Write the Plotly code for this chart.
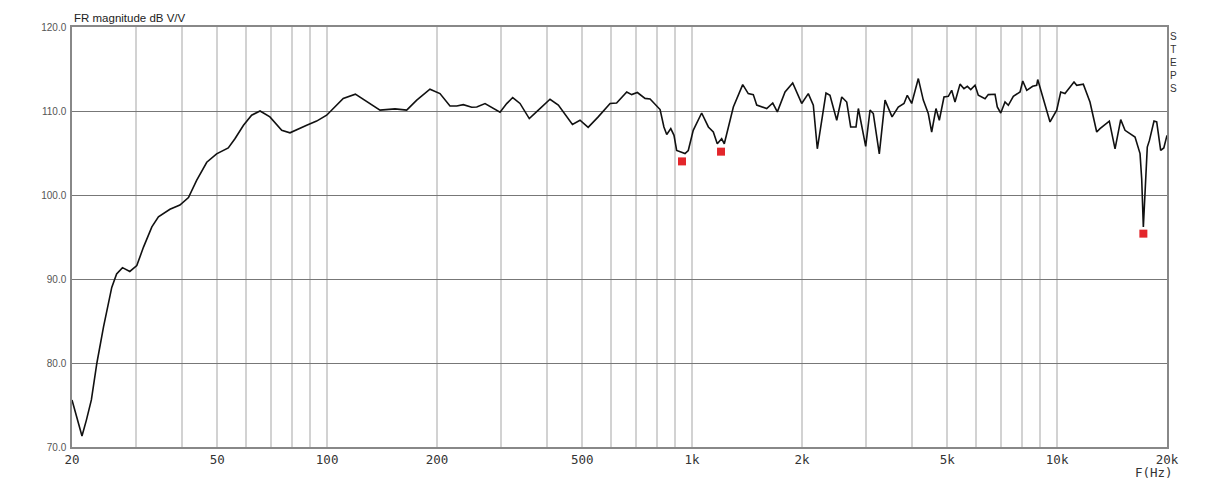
import plotly.graph_objects as go

# ---- data ----
freq_hz = [20, 21.3, 21.9, 22.6, 23.4, 24.4, 25.7, 26.5, 27.5, 28.8, 30.1, 31.4, 33.1, 34.5,
           37.1, 39.5, 41.7, 43.9, 46.8, 49.8, 53.6, 55.9, 59.0, 62.1, 65.5, 69.7, 75.1, 79.1,
           87.9, 93.6, 99.7, 110.7, 119.5, 139.6, 153.5, 165.2, 176, 191.3, 203.8, 217.1, 226.5,
           236.1, 249, 257, 270.8, 285.4, 297.7, 310.4, 322.4, 337.6, 358, 379, 408, 430, 470,
           493, 519, 553, 596, 621, 662, 683, 708, 743, 767, 817, 837, 852, 874, 892, 907, 956,
           976, 1007, 1062, 1108, 1143, 1172, 1205, 1225, 1297, 1376, 1425, 1471, 1503, 1601,
           1663, 1712, 1797, 1886, 1996, 2081, 2148, 2203, 2265, 2327, 2386, 2490, 2570, 2652,
           2719, 2812, 2854, 2989, 3072, 3136, 3257, 3377, 3530, 3671, 3806, 3886, 3995, 4166,
           4299, 4436, 4532, 4657, 4756, 4898, 5034, 5142, 5251, 5420, 5556, 5676, 5799, 5958,
           6082, 6346, 6478, 6759, 6856, 7007, 7199, 7350, 7586, 7914, 8051, 8257, 8570, 8790,
           8848, 9074, 9562, 9974, 10230, 10508, 11124, 11315, 11796, 12303, 12836, 13104,
           13900, 14410, 14936, 15348, 16346, 16872, 17050, 17228, 17420, 17660, 17900, 18426,
           18742, 19218, 19600, 20000]
mag_db = [75.6, 71.3, 73.2, 75.6, 80.0, 84.3, 89.0, 90.6, 91.35, 90.9, 91.6, 93.8, 96.2, 97.4,
          98.3, 98.8, 99.7, 101.75, 103.9, 104.9, 105.6, 106.7, 108.3, 109.5, 110.0, 109.3, 107.7,
          107.4, 108.3, 108.8, 109.5, 111.5, 112.0, 110.1, 110.25, 110.1, 111.3, 112.6, 112.07,
          110.6, 110.6, 110.76, 110.44, 110.48, 110.88, 110.29, 109.85, 110.88, 111.6, 110.9,
          109.1, 110.1, 111.4, 110.7, 108.4, 108.9, 108.06, 109.3, 110.9, 110.95, 112.26, 111.95,
          112.2, 111.5, 111.43, 110.17, 108.1, 107.2, 107.9, 107.1, 105.3, 104.93, 105.3, 107.7,
          109.76, 108.1, 107.5, 106.1, 106.7, 106.1, 110.48, 113.14, 112.07, 111.95, 110.7,
          110.29, 110.95, 109.9, 112.26, 113.33, 110.9, 112.07, 110.7, 105.5, 108.7, 112.14,
          111.87, 108.9, 111.67, 111.07, 108.1, 108.1, 110.3, 105.8, 110.1, 109.7, 104.9, 111.3,
          109.3, 110.48, 110.9, 111.87, 110.9, 113.86, 111.3, 109.7, 107.5, 110.29, 108.9,
          111.67, 111.75, 112.46, 111.07, 113.2, 112.66, 112.94, 112.55, 113.06, 111.87, 111.47,
          111.95, 111.99, 110.48, 109.76, 111.07, 110.68, 111.75, 112.26, 113.57, 112.46, 112.94,
          113.06, 113.74, 112.07, 108.7, 110.1, 112.26, 112.07, 113.45, 113.06, 113.2, 111.07,
          107.5, 107.9, 108.8, 105.5, 108.97, 107.7, 106.9, 104.93, 101.9, 96.2, 101.0, 105.7,
          106.5, 108.8, 108.7, 105.3, 105.6, 107.1]

# marked minima (red squares)
marker_freq = [938, 1200, 17230]
marker_db = [104.0, 105.16, 95.4]

# axis ticks
x_tick_vals = [20, 50, 100, 200, 500, 1000, 2000, 5000, 10000, 20000]
x_tick_text = ["20", "50", "100", "200", "500", "1k", "2k", "5k", "10k", "20k"]
x_minor_vals = [30, 40, 60, 70, 80, 90, 300, 400, 600, 700, 800, 900,
                3000, 4000, 6000, 7000, 8000, 9000]
decade_lines = [100, 1000, 10000]
y_tick_vals = [70, 80, 90, 100, 110, 120]
y_tick_text = ["70.0", "80.0", "90.0", "100.0", "110.0", "120.0"]

fig = go.Figure()
fig.add_trace(go.Scatter(x=freq_hz, y=mag_db, mode="lines",
                         line=dict(color="#111111", width=1.6), hoverinfo="x+y",
                         showlegend=False))
fig.add_trace(go.Scatter(x=marker_freq, y=marker_db, mode="markers",
                         marker=dict(symbol="square", size=8, color="#e3262b"),
                         showlegend=False))

for d in decade_lines:
    fig.add_shape(type="line", xref="x", yref="paper", x0=d, x1=d, y0=0, y1=1,
                  line=dict(color="#777777", width=1.5), layer="below")

fig.update_xaxes(type="log", range=[1.30103, 4.30103],
                 tickmode="array", tickvals=x_tick_vals, ticktext=x_tick_text,
                 showgrid=True, gridcolor="#d2d2d2", gridwidth=1.5,
                 minor=dict(tickmode="array", tickvals=x_minor_vals, showgrid=True,
                            gridcolor="#d2d2d2", gridwidth=1.5, ticks=""),
                 ticks="", showline=True, linecolor="#888888", linewidth=1.5, mirror=True,
                 tickfont=dict(family="DejaVu Sans Mono", size=12.5, color="#333333"),
                 zeroline=False)
fig.update_yaxes(range=[70, 120], tickmode="array", tickvals=y_tick_vals,
                 ticktext=y_tick_text, showgrid=True, gridcolor="#777777", gridwidth=1.4,
                 ticks="", showline=True, linecolor="#888888", linewidth=1.5, mirror=True,
                 tickfont=dict(family="Liberation Sans", size=10, color="#555555"),
                 zeroline=False, ticklabelstandoff=2)

fig.add_annotation(text="FR magnitude dB V/V", xref="paper", yref="paper", x=0, y=1,
                   xanchor="left", yanchor="bottom", yshift=1, showarrow=False,
                   font=dict(family="Liberation Sans", size=11.5, color="#222222"))
fig.add_annotation(text="S<br>T<br>E<br>P<br>S", xref="paper", yref="paper", x=1, y=1,
                   xanchor="left", yanchor="top", xshift=1, yshift=-2, showarrow=False,
                   align="center",
                   font=dict(family="Liberation Sans", size=10, color="#333333"))
fig.add_annotation(text="F(Hz)", xref="paper", yref="paper", x=0.9877, y=0,
                   xanchor="center", yanchor="middle", yshift=-25, showarrow=False,
                   font=dict(family="DejaVu Sans Mono", size=12.5, color="#333333"))

fig.update_layout(width=1232, height=481, margin=dict(l=72, r=65, t=27, b=34),
                  plot_bgcolor="white", paper_bgcolor="white")

fig.write_html("out.html", config={"displayModeBar": False},
               post_script="document.body.style.margin='0';")
